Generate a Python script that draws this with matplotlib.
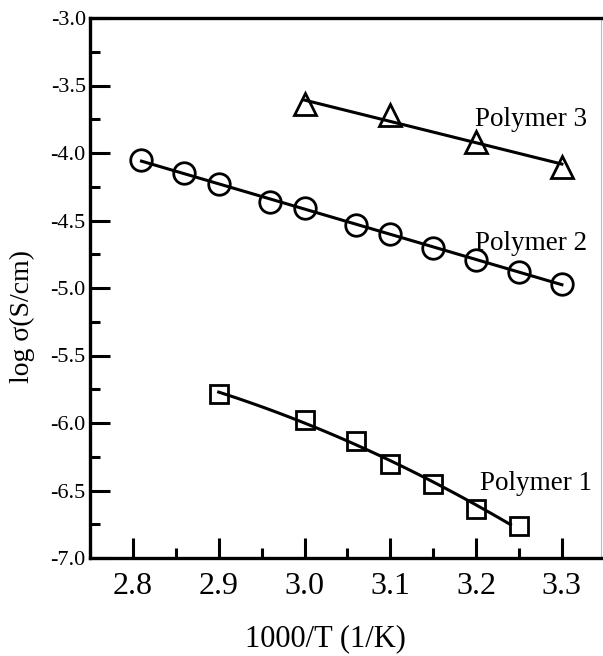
import numpy as np
import matplotlib
matplotlib.use('Agg')
import matplotlib.pyplot as plt
from matplotlib.ticker import MultipleLocator, FormatStrFormatter

plt.rcParams['font.family'] = ['Liberation Serif', 'DejaVu Serif']
plt.rcParams['axes.unicode_minus'] = False

# data
p1_x = [2.90, 3.00, 3.06, 3.10, 3.15, 3.20, 3.25]
p1_y = [-5.785, -5.98, -6.13, -6.30, -6.45, -6.64, -6.76]

p2_x = [2.81, 2.86, 2.90, 2.96, 3.00, 3.06, 3.10, 3.15, 3.20, 3.25, 3.30]
p2_y = [-4.05, -4.15, -4.23, -4.36, -4.41, -4.53, -4.60, -4.70, -4.79, -4.88, -4.97]

p3_x = [3.00, 3.10, 3.20, 3.30]
p3_y = [-3.64, -3.72, -3.92, -4.10]

labels = ['Polymer 1', 'Polymer 2', 'Polymer 3']

fig = plt.figure(figsize=(6.03, 6.56), dpi=100)
ax = fig.add_axes([90 / 603, 98 / 656, 511 / 603, 540 / 656])

lw = 2.2
mew = 2.0

# fitted lines: quadratic for polymer 1, straight for 2 and 3
for xs, ys, deg, marker, ms in [(p1_x, p1_y, 2, 's', 13.5),
                                (p2_x, p2_y, 1, 'o', 15.5),
                                (p3_x, p3_y, 1, '^', 15.5)]:
    coef = np.polyfit(xs, ys, deg)
    xf = np.linspace(min(xs), max(xs) - (0.01 if deg == 2 else 0), 100)
    ax.plot(xf, np.polyval(coef, xf), color='black', lw=lw, zorder=2)
    ax.plot(xs, ys, linestyle='none', marker=marker, ms=ms, mfc='none',
            mec='black', mew=mew, zorder=3)

ax.text(3.204, -6.496, labels[0], fontsize=19.5, ha='left', va='baseline')
ax.text(3.199, -4.72, labels[1], fontsize=19.5, ha='left', va='baseline')
ax.text(3.199, -3.80, labels[2], fontsize=19.5, ha='left', va='baseline')

ax.set_xlim(2.75, 2.75 + 511 / 858)
ax.set_ylim(-7.0, -3.0)
ax.xaxis.set_major_locator(MultipleLocator(0.1))
ax.xaxis.set_minor_locator(MultipleLocator(0.05))
ax.yaxis.set_major_locator(MultipleLocator(0.5))
ax.yaxis.set_minor_locator(MultipleLocator(0.25))
ax.xaxis.set_major_formatter(FormatStrFormatter('%.1f'))
ax.yaxis.set_major_formatter(FormatStrFormatter('%.1f'))

ax.tick_params(axis='both', which='both', direction='in', top=False, right=False, width=2.2)
ax.tick_params(axis='both', which='major', length=14.4)
ax.tick_params(axis='both', which='minor', length=7.2)
ax.tick_params(axis='x', which='major', labelsize=23, pad=10)
ax.tick_params(axis='y', which='major', labelsize=16, pad=3)

for side in ['left', 'bottom', 'top']:
    ax.spines[side].set_linewidth(2.4)
ax.spines['right'].set_linewidth(0.8)
ax.spines['right'].set_color('#bbbbbb')

ax.set_xlabel('1000/T (1/K)', fontsize=22)
ax.set_ylabel('log σ(S/cm)', fontsize=20)
ax.xaxis.set_label_coords(0.46, -0.122)
ax.yaxis.set_label_coords(-0.107, 0.448)

fig.savefig('out.png', dpi=100)
